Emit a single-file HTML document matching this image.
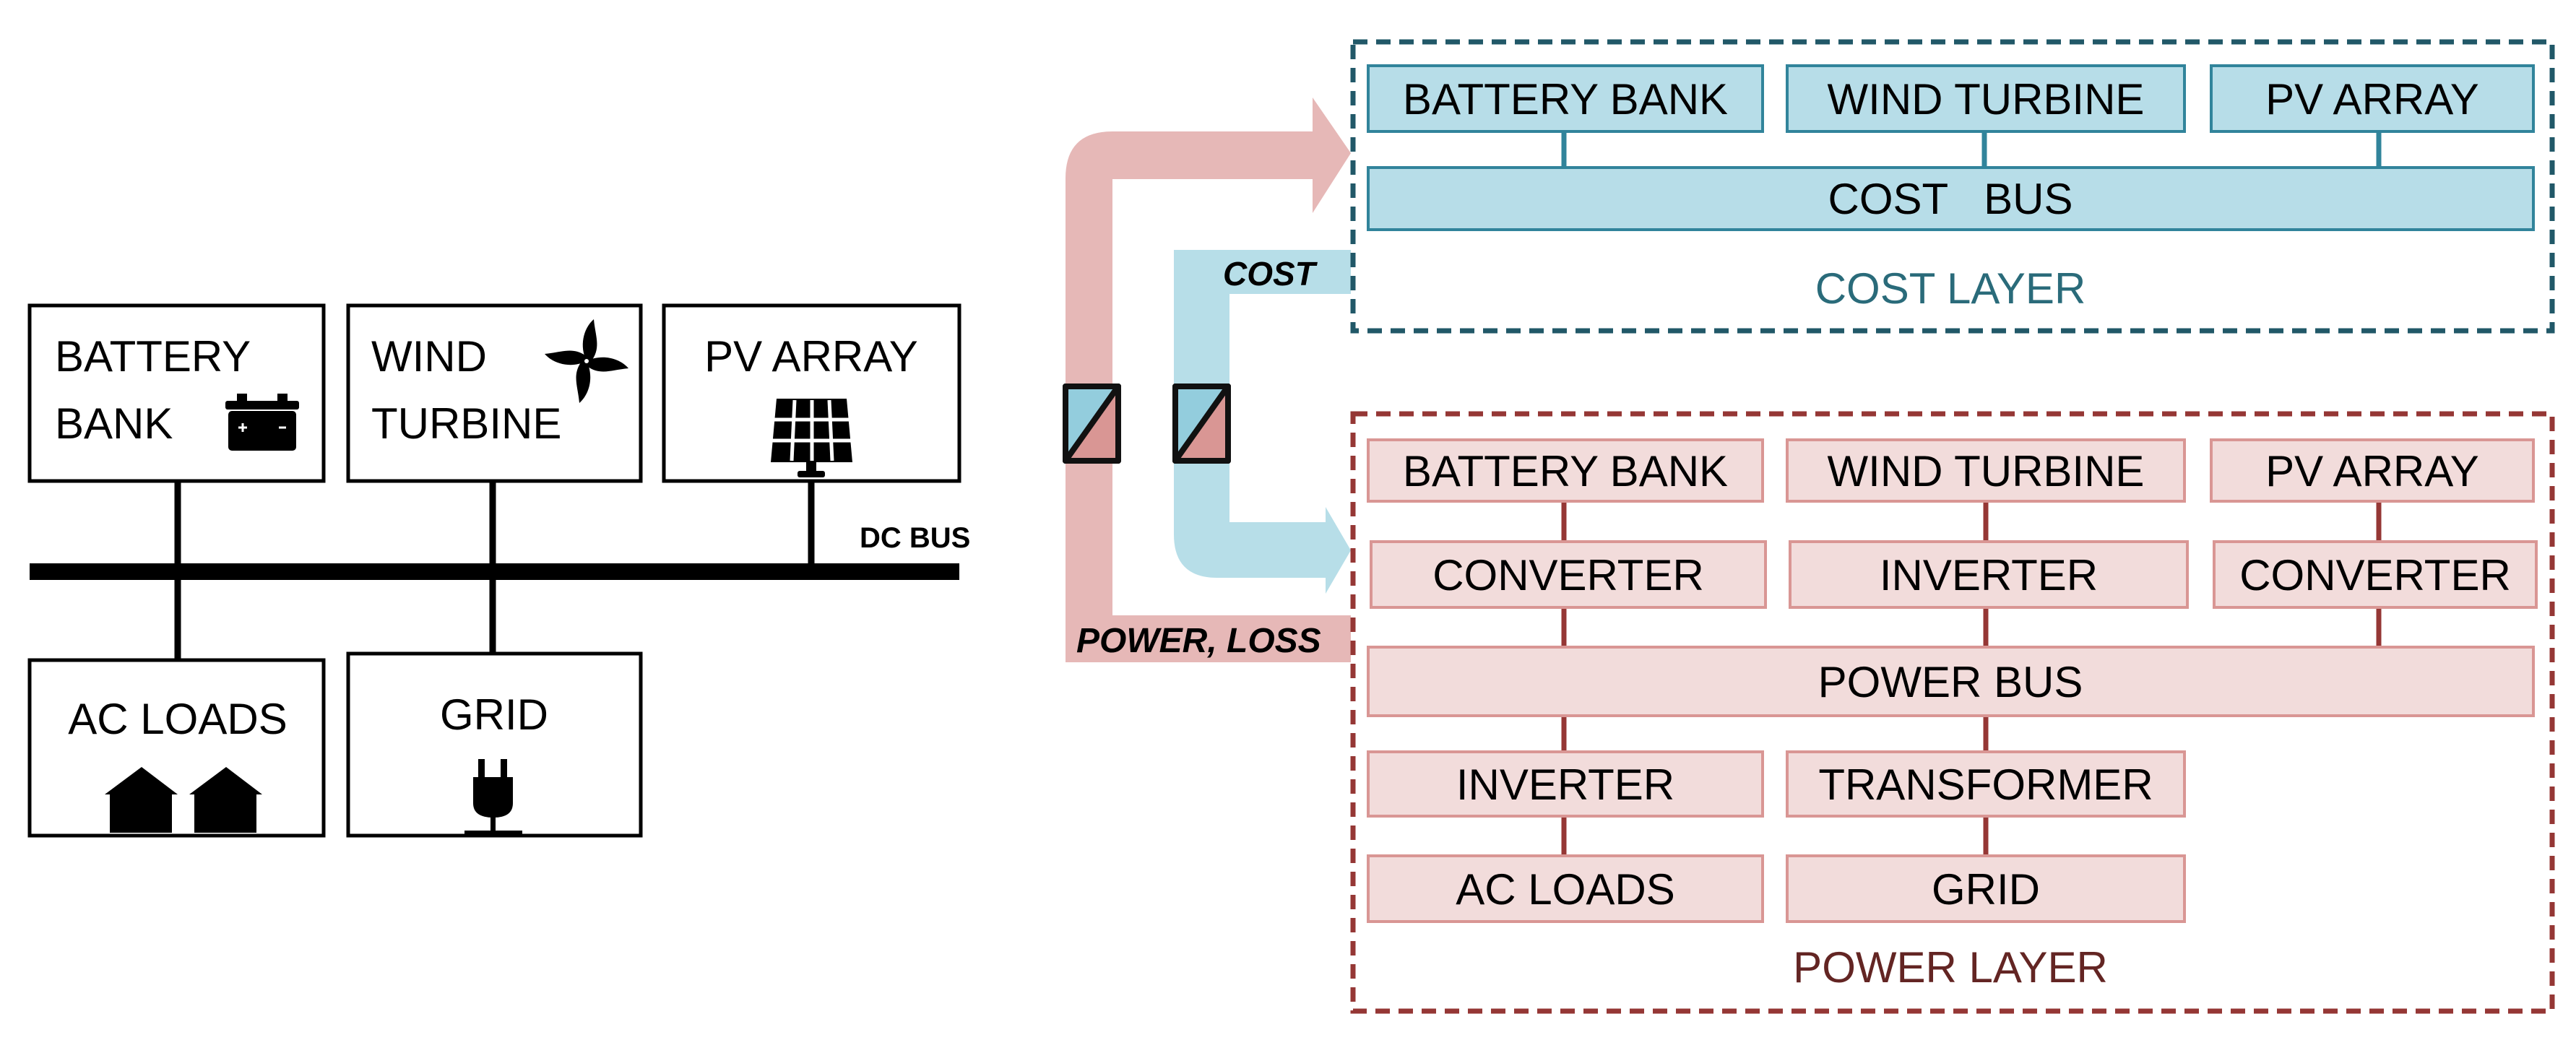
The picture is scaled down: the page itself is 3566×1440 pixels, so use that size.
<!DOCTYPE html>
<html><head><meta charset="utf-8"><style>
html,body{margin:0;padding:0;background:#fff;}
svg{display:block;}
text{font-family:"Liberation Sans",sans-serif;}
</style></head><body>
<svg width="3566" height="1440" viewBox="0 0 3566 1440" xmlns="http://www.w3.org/2000/svg">
<!-- LEFT DIAGRAM -->
<g fill="#fff" stroke="#000" stroke-width="5">
<rect x="41" y="423" width="407" height="243"/>
<rect x="482" y="423" width="405" height="243"/>
<rect x="919" y="423" width="409" height="243"/>
<rect x="41" y="914" width="407" height="243"/>
<rect x="482" y="905" width="405" height="252"/>
</g>
<g stroke="#000" stroke-width="9">
<line x1="246" y1="666" x2="246" y2="914"/>
<line x1="682" y1="666" x2="682" y2="905"/>
<line x1="1123" y1="666" x2="1123" y2="790"/>
</g>
<rect x="41" y="780" width="1287" height="23" fill="#000"/>
<g font-size="60" fill="#000">
<text x="76" y="514">BATTERY</text>
<text x="76" y="607">BANK</text>
<text x="514" y="514">WIND</text>
<text x="514" y="607">TURBINE</text>
<text x="1123" y="514" text-anchor="middle">PV ARRAY</text>
<text x="246" y="1016" text-anchor="middle">AC LOADS</text>
<text x="684" y="1010" text-anchor="middle">GRID</text>
</g>
<text x="1190" y="758" font-size="40" font-weight="bold">DC BUS</text>
<!-- battery icon -->
<g fill="#000">
<rect x="328" y="545" width="14" height="10"/><rect x="384" y="545" width="14" height="10"/>
<rect x="312" y="555" width="102" height="12" rx="3"/>
<rect x="316" y="569" width="94" height="55" rx="5"/>
</g>
<g stroke="#fff" stroke-width="3"><line x1="330" y1="592" x2="342" y2="592"/><line x1="336" y1="586" x2="336" y2="598"/><line x1="386" y1="592" x2="396" y2="592"/></g>
<!-- fan icon -->
<g transform="translate(812,500)" fill="#000">
<g id="bl"><path d="M0,0 C-10,-20 -5,-45 10,-58 C12,-35 20,-20 8,-2 Z"/></g>
<use href="#bl" transform="rotate(90)"/><use href="#bl" transform="rotate(180)"/><use href="#bl" transform="rotate(270)"/>
<circle r="8"/><circle r="3" fill="#fff"/>
</g>
<!-- solar icon -->
<g>
<path d="M1075,552 L1172,552 L1180,640 L1067,640 Z" fill="#000"/>
<g stroke="#fff" stroke-width="5"><line x1="1071" y1="581" x2="1176" y2="581"/><line x1="1069" y1="610" x2="1178" y2="610"/><line x1="1100" y1="554" x2="1096" y2="638"/><line x1="1124" y1="554" x2="1124" y2="638"/><line x1="1148" y1="554" x2="1152" y2="638"/></g>
<rect x="1116" y="640" width="14" height="14" fill="#000"/><rect x="1104" y="652" width="38" height="9" rx="3" fill="#000"/>
</g>
<!-- houses -->
<g fill="#000">
<path d="M145,1100 L196,1062 L246,1100 L238,1100 L238,1153 L152,1153 L152,1100 Z"/>
<path d="M262,1100 L313,1062 L363,1100 L355,1100 L355,1153 L269,1153 L269,1100 Z"/>
</g>
<!-- plug -->
<g fill="#000">
<rect x="662" y="1051" width="9" height="30"/><rect x="693" y="1051" width="9" height="30"/>
<path d="M655,1076 L710,1076 L710,1112 Q710,1132 683,1132 Q655,1132 655,1112 Z"/>
<rect x="679" y="1130" width="7" height="20"/>
<rect x="643" y="1150" width="80" height="5"/>
</g>

<!-- ARROWS -->
<g fill="#e6b8b7">
<path d="M1475,917 L1475,247 Q1475,182 1540,182 L1817,182 L1817,135 L1870,212 L1817,295 L1817,248 L1540,248 L1540,852 L1870,852 L1870,917 Z"/>
</g>
<g fill="#b7dee8">
<path d="M1625,346 L1870,346 L1870,407 L1702,407 L1702,723 L1835,723 L1835,702 L1870,762 L1835,822 L1835,800 L1685,800 Q1625,800 1625,740 Z"/>
</g>
<text x="1693" y="395" font-size="46" font-weight="bold" font-style="italic">COST</text>
<text x="1490" y="903" font-size="48" font-weight="bold" font-style="italic">POWER, LOSS</text>
<!-- converter squares -->
<g stroke="#111" stroke-width="8" stroke-linejoin="round">
<path d="M1475,535 L1548,535 L1475,638 Z" fill="#93cddd"/><path d="M1548,535 L1548,638 L1475,638 Z" fill="#d99694"/>
<rect x="1475" y="535" width="73" height="103" fill="none"/>
<path d="M1627,535 L1700,535 L1627,638 Z" fill="#93cddd"/><path d="M1700,535 L1700,638 L1627,638 Z" fill="#d99694"/>
<rect x="1627" y="535" width="73" height="103" fill="none"/>
</g>

<!-- COST LAYER -->
<rect x="1873" y="58" width="1660" height="400" fill="none" stroke="#215868" stroke-width="7" stroke-dasharray="20,12"/>
<g stroke="#31849b" stroke-width="7">
<line x1="2165" y1="182" x2="2165" y2="232"/><line x1="2747" y1="182" x2="2747" y2="232"/><line x1="3293" y1="182" x2="3293" y2="232"/>
</g>
<g fill="#b7dde8" stroke="#31849b" stroke-width="4">
<rect x="1894" y="91" width="546" height="91"/>
<rect x="2474" y="91" width="550" height="91"/>
<rect x="3061" y="91" width="446" height="91"/>
<rect x="1894" y="232" width="1613" height="86"/>
</g>
<g font-size="60" fill="#000" text-anchor="middle">
<text x="2167" y="158">BATTERY BANK</text>
<text x="2749" y="158">WIND TURBINE</text>
<text x="3284" y="158">PV ARRAY</text>
<text x="2700" y="296" xml:space="preserve">COST   BUS</text>
</g>
<text x="2700" y="420" font-size="60" fill="#2a6b7a" text-anchor="middle">COST LAYER</text>

<!-- POWER LAYER -->
<rect x="1873" y="573" width="1660" height="827" fill="none" stroke="#953735" stroke-width="7" stroke-dasharray="20,12"/>
<g stroke="#953735" stroke-width="7">
<line x1="2165" y1="694" x2="2165" y2="1041"/>
<line x1="2749" y1="694" x2="2749" y2="1276"/>
<line x1="3293" y1="694" x2="3293" y2="896"/>
<line x1="2165" y1="1130" x2="2165" y2="1185"/>
</g>
<g fill="#f2dcdb" stroke="#d99694" stroke-width="4">
<rect x="1894" y="609" width="546" height="85"/>
<rect x="2474" y="609" width="550" height="85"/>
<rect x="3061" y="609" width="446" height="85"/>
<rect x="1898" y="750" width="546" height="91"/>
<rect x="2478" y="750" width="550" height="91"/>
<rect x="3065" y="750" width="446" height="91"/>
<rect x="1894" y="896" width="1613" height="95"/>
<rect x="1894" y="1041" width="546" height="89"/>
<rect x="2474" y="1041" width="550" height="89"/>
<rect x="1894" y="1185" width="546" height="91"/>
<rect x="2474" y="1185" width="550" height="91"/>
</g>
<g font-size="60" fill="#000" text-anchor="middle">
<text x="2167" y="673">BATTERY BANK</text>
<text x="2749" y="673">WIND TURBINE</text>
<text x="3284" y="673">PV ARRAY</text>
<text x="2171" y="817">CONVERTER</text>
<text x="2753" y="817">INVERTER</text>
<text x="3288" y="817">CONVERTER</text>
<text x="2700" y="965">POWER BUS</text>
<text x="2167" y="1107">INVERTER</text>
<text x="2749" y="1107">TRANSFORMER</text>
<text x="2167" y="1252">AC LOADS</text>
<text x="2749" y="1252">GRID</text>
</g>
<text x="2700" y="1360" font-size="60" fill="#632523" text-anchor="middle">POWER LAYER</text>
</svg>
</body></html>
